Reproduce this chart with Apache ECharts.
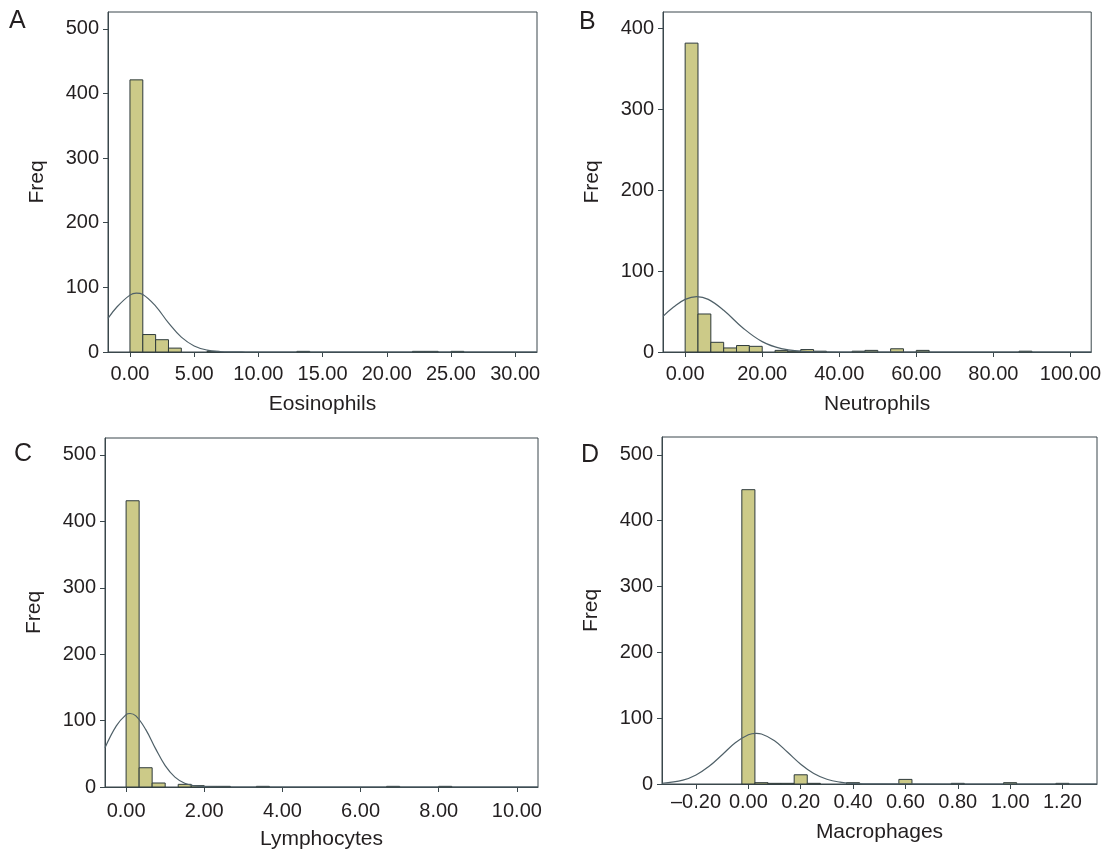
<!DOCTYPE html>
<html>
<head>
<meta charset="utf-8">
<script src="https://cdn.jsdelivr.net/npm/echarts@6/dist/echarts.min.js"></script>
<style>
html,body{margin:0;padding:0;background:#fff;}
#chart{width:1104px;height:852px;}
</style>
</head>
<body>
<div id="chart"></div>
<script>
// ---------- DATA ----------
// Panel A: Eosinophils (bins of width 1 starting at 0)
var eosBinStart = 0;
var eosBinWidth = 1;
var eosCounts = [421, 27, 19, 6, 0, 0, 1, 0, 0, 0, 0, 0, 0, 1, 0, 0, 0, 0, 0, 0, 0, 0, 1, 1, 0, 1];
var eosCurveX = [-1.71, -1, 0, 0.5, 1, 2, 3, 4, 5, 6, 7, 8, 9, 10, 31.7];
var eosCurveY = [52, 70, 88, 91, 89, 71, 45, 23, 9.4, 3.0, 0.8, 0.16, 0.03, 0, 0];
var eosXTicks = [0, 5, 10, 15, 20, 25, 30];

// Panel B: Neutrophils (bins of width 100/30 starting at 0)
var neuBinStart = 0;
var neuBinWidth = 100 / 30;
var neuCounts = [382, 47, 12, 5, 8, 7, 0, 2, 1, 3, 1, 0, 0, 1, 2, 0, 4, 0, 2, 0, 0, 0, 0, 0, 0, 0, 1];
var neuCurveX = [-5.75, -3, 0, 3, 6, 10, 15, 20, 25, 30, 35, 40, 105.4];
var neuCurveY = [44, 55.6, 65.1, 68.6, 65.1, 51.6, 29.7, 12.8, 4.1, 1.0, 0.18, 0.02, 0];
var neuXTicks = [0, 20, 40, 60, 80, 100];

// Panel C: Lymphocytes (bins of width 1/3 starting at 0)
var lymBinStart = 0;
var lymBinWidth = 1 / 3;
var lymCounts = [431, 29, 6, 0, 4, 2, 1, 1, 0, 0, 1, 0, 0, 0, 0, 0, 0, 0, 0, 0, 1, 0, 0, 0, 1];
var lymCurveX = [-0.54, -0.25, 0, 0.1, 0.25, 0.5, 0.75, 1.0, 1.25, 1.5, 1.75, 2.0, 2.5, 10.54];
var lymCurveY = [59, 92, 109, 110.7, 107, 86.8, 58.2, 32.2, 14.8, 5.6, 1.75, 0.45, 0.01, 0];
var lymXTicks = [0, 2, 4, 6, 8, 10];

// Panel D: Macrophages (bins of width 0.05 centred on multiples of 0.05)
var macBinStart = -0.025;
var macBinWidth = 0.05;
var macCounts = [447, 2, 1, 1, 14, 1, 0, 0, 2, 0, 0, 0, 7, 0, 0, 0, 1, 0, 0, 0, 2, 0, 0, 0, 1];
var macCurveX = [-0.33, -0.25, -0.2, -0.15, -0.1, -0.05, 0, 0.03, 0.05, 0.1, 0.15, 0.2, 0.25, 0.3, 0.35, 0.4, 0.45, 0.5, 1.332];
var macCurveY = [1.1, 6.0, 13.8, 26.9, 44.5, 62.6, 74.8, 77, 76, 65.7, 48.2, 30.1, 16, 7.2, 2.8, 0.9, 0.25, 0.05, 0];
var macXTicks = [-0.2, 0, 0.2, 0.4, 0.6, 0.8, 1.0, 1.2];

var freqTicksA = [0, 100, 200, 300, 400, 500];
var freqTicksB = [0, 100, 200, 300, 400];

var panelLetters = ['A', 'B', 'C', 'D'];
var xTitles = ['Eosinophils', 'Neutrophils', 'Lymphocytes', 'Macrophages'];
var yTitle = 'Freq';

// ---------- STYLE / LAYOUT ----------
var FONT = 'Liberation Sans, Arial, sans-serif';
var TEXT = '#231f20';
var AXIS = '#3a474c';
var BAR_FILL = '#ccca88';
var BAR_EDGE = '#2e3a3b';
var CURVE = '#4f6068';

var panels = [
  {grid:{left:108, top:12, width:429, height:340}, xmin:-1.71, xmax:31.7, ymax:526, lm:12, ng:42,
   start:eosBinStart, width:eosBinWidth, counts:eosCounts, cx:eosCurveX, cy:eosCurveY, xt:eosXTicks, yt:freqTicksA},
  {grid:{left:663, top:12, width:430, height:340}, xmin:-5.75, xmax:105.4, ymax:420.5, lm:12, ng:42,
   start:neuBinStart, width:neuBinWidth, counts:neuCounts, cx:neuCurveX, cy:neuCurveY, xt:neuXTicks, yt:freqTicksB},
  {grid:{left:105, top:438, width:433, height:349}, xmin:-0.54, xmax:10.54, ymax:525.5, lm:14, ng:42,
   start:lymBinStart, width:lymBinWidth, counts:lymCounts, cx:lymCurveX, cy:lymCurveY, xt:lymXTicks, yt:freqTicksA},
  {grid:{left:662, top:437, width:435, height:347}, xmin:-0.33, xmax:1.332, ymax:527, lm:8, ng:38,
   start:macBinStart, width:macBinWidth, counts:macCounts, cx:macCurveX, cy:macCurveY, xt:macXTicks, yt:freqTicksA}
];

function fmtX(v) {
  var s = Math.abs(v).toFixed(2);
  return (v < -1e-9 ? '\u2013' : '') + s;
}

var grids = [], xAxes = [], yAxes = [], series = [];
panels.forEach(function (p, i) {
  grids.push({left:p.grid.left, top:p.grid.top, width:p.grid.width, height:p.grid.height,
              show:true, borderColor:AXIS, borderWidth:1, backgroundColor:'transparent'});
  xAxes.push({
    type:'value', gridIndex:i, min:p.xmin, max:p.xmax,
    name:xTitles[i], nameLocation:'middle', nameGap:p.ng,
    nameTextStyle:{fontFamily:FONT, fontSize:21, color:TEXT},
    axisLine:{show:true, onZero:false, lineStyle:{color:AXIS, width:1}},
    axisTick:{show:true, length:5, lineStyle:{color:AXIS}, customValues:p.xt},
    axisLabel:{show:true, margin:p.lm, fontFamily:FONT, fontSize:20, color:TEXT, customValues:p.xt, formatter:fmtX},
    splitLine:{show:false}
  });
  yAxes.push({
    type:'value', gridIndex:i, min:0, max:p.ymax,
    name:yTitle, nameLocation:'middle', nameGap:60,
    nameTextStyle:{fontFamily:FONT, fontSize:21, color:TEXT},
    axisLine:{show:true, onZero:false, lineStyle:{color:AXIS, width:1}},
    axisTick:{show:true, length:5, lineStyle:{color:AXIS}, customValues:p.yt},
    axisLabel:{show:true, margin:9, fontFamily:FONT, fontSize:20, color:TEXT, customValues:p.yt},
    splitLine:{show:false}
  });
  var barData = [];
  p.counts.forEach(function (c, k) {
    if (c > 0) barData.push([p.start + k * p.width, p.start + (k + 1) * p.width, c]);
  });
  series.push({
    type:'custom', xAxisIndex:i, yAxisIndex:i, data:barData, silent:true,
    encode:{x:[0,1], y:2},
    renderItem:function (params, api) {
      var a = api.coord([api.value(0), api.value(2)]);
      var b = api.coord([api.value(1), 0]);
      return {type:'rect', shape:{x:a[0], y:a[1], width:b[0]-a[0], height:b[1]-a[1]},
              style:{fill:BAR_FILL, stroke:BAR_EDGE, lineWidth:1}};
    },
    z:2
  });
  var lineData = p.cx.map(function (x, k) { return [x, p.cy[k]]; });
  series.push({
    type:'line', xAxisIndex:i, yAxisIndex:i, data:lineData, smooth:0.4, showSymbol:false, silent:true,
    lineStyle:{color:CURVE, width:1.2}, z:3
  });
});

var letterPos = [[9,9],[579,10],[14,442],[581,443]];
var graphics = panelLetters.map(function (L, i) {
  return {type:'text', left:letterPos[i][0], top:letterPos[i][1],
          style:{text:L, fontFamily:FONT, fontSize:25, fill:TEXT}};
});

var chart = echarts.init(document.getElementById('chart'), null, {renderer:'canvas'});
chart.setOption({
  animation:false,
  backgroundColor:'#ffffff',
  grid:grids, xAxis:xAxes, yAxis:yAxes, series:series, graphic:graphics
});
</script>
</body>
</html>
